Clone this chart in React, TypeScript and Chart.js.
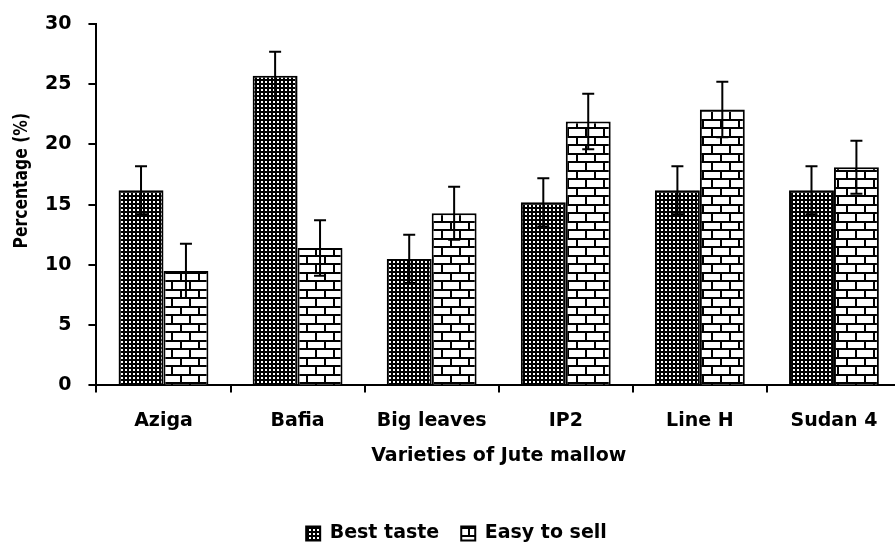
import React, { useEffect, useRef } from "react";
import { Chart, registerables } from "chart.js";

Chart.register(...registerables);

const categories = ["Aziga", "Bafia", "Big leaves", "IP2", "Line H", "Sudan 4"];
const bestTaste = [16.2, 25.7, 10.5, 15.2, 16.2, 16.2];
const easyToSell = [9.5, 11.4, 14.3, 21.9, 22.9, 18.1];
const bestTasteErr = [2.0, 2.0, 2.0, 2.0, 2.0, 2.0];
const easyToSellErr = [2.25, 2.3, 2.2, 2.3, 2.3, 2.2];
const seriesNames = ["Best taste", "Easy to sell"];
const yTitle = "Percentage (%)";
const xTitle = "Varieties of Jute mallow";

const FONT = "'DejaVu Sans', sans-serif";
const FSIZE = 19;

function makeDotPattern(): CanvasPattern | string {
  const c = document.createElement("canvas");
  c.width = 4;
  c.height = 4;
  const g = c.getContext("2d");
  if (!g) return "#000";
  g.fillStyle = "#000";
  g.fillRect(0, 0, 4, 4);
  g.fillStyle = "#fff";
  g.fillRect(1, 1, 2, 2);
  return g.createPattern(c, "repeat") || "#000";
}

function makeBrickPattern(): CanvasPattern | string {
  const w = 18;
  const h = 17;
  const c = document.createElement("canvas");
  c.width = w;
  c.height = h;
  const g = c.getContext("2d");
  if (!g) return "#fff";
  g.fillStyle = "#fff";
  g.fillRect(0, 0, w, h);
  g.fillStyle = "#000";
  g.fillRect(0, 0, w, 2);
  g.fillRect(0, 8, w, 2);
  g.fillRect(0, 0, 2, 8);
  g.fillRect(9, 8, 2, 9);
  return g.createPattern(c, "repeat") || "#fff";
}

const errorBarPlugin = {
  id: "errorBars",
  afterDatasetsDraw(chart: any) {
    const ctx = chart.ctx;
    const yScale = chart.scales.y;
    chart.data.datasets.forEach((ds: any, di: number) => {
      const meta = chart.getDatasetMeta(di);
      const errs: number[] = ds.errors || [];
      meta.data.forEach((bar: any, i: number) => {
        const v = ds.data[i];
        const e = errs[i];
        if (e == null) return;
        const top = yScale.getPixelForValue(v + e);
        const bot = yScale.getPixelForValue(v - e);
        ctx.save();
        ctx.strokeStyle = "#000";
        ctx.lineWidth = 2;
        ctx.beginPath();
        ctx.moveTo(bar.x, top);
        ctx.lineTo(bar.x, bot);
        ctx.moveTo(bar.x - 6, top);
        ctx.lineTo(bar.x + 6, top);
        ctx.moveTo(bar.x - 6, bot);
        ctx.lineTo(bar.x + 6, bot);
        ctx.stroke();
        ctx.restore();
      });
    });
  },
};

const yTitlePlugin = {
  id: "yTitle",
  afterDraw(chart: any) {
    const ctx = chart.ctx;
    const area = chart.chartArea;
    ctx.save();
    ctx.translate(22, (area.top + area.bottom) / 2 - 24);
    ctx.rotate(-Math.PI / 2);
    ctx.scale(0.82, 1);
    ctx.fillStyle = "#000";
    ctx.font = `bold ${FSIZE}px ${FONT}`;
    ctx.textAlign = "center";
    ctx.textBaseline = "middle";
    ctx.fillText(yTitle, 0, 0);
    ctx.restore();
  },
};

export default function App() {
  const ref = useRef<HTMLCanvasElement | null>(null);

  useEffect(() => {
    if (!ref.current) return;
    const font = { family: FONT, size: FSIZE, weight: "bold" };
    const chart = new Chart(ref.current, {
      type: "bar",
      data: {
        labels: categories,
        datasets: [
          {
            label: seriesNames[0],
            data: bestTaste,
            errors: bestTasteErr,
            backgroundColor: makeDotPattern(),
            borderColor: "#000",
            borderWidth: 2,
            categoryPercentage: 0.67,
            barPercentage: 1,
          } as any,
          {
            label: seriesNames[1],
            data: easyToSell,
            errors: easyToSellErr,
            backgroundColor: makeBrickPattern(),
            borderColor: "#000",
            borderWidth: 2,
            categoryPercentage: 0.67,
            barPercentage: 1,
          } as any,
        ],
      },
      options: {
        responsive: false,
        animation: false,
        devicePixelRatio: 1,
        layout: { padding: { left: 12, right: 9, top: 24, bottom: -8 } },
        plugins: {
          legend: {
            position: "bottom",
            labels: {
              color: "#000",
              font,
              boxWidth: 14,
              boxHeight: 14,
              padding: 22,
            },
          },
          tooltip: { enabled: false },
        },
        scales: {
          x: {
            grid: {
              display: true,
              drawOnChartArea: false,
              drawTicks: true,
              tickLength: 7,
              color: "#000",
              lineWidth: 2,
              offset: true,
            },
            border: { display: true, color: "#000", width: 2 },
            ticks: {
              color: "#000",
              font,
              padding: 17,
              maxRotation: 0,
            },
            title: {
              display: true,
              text: xTitle,
              color: "#000",
              font,
              padding: { top: -5, bottom: 35 },
            },
          },
          y: {
            min: 0,
            max: 30,
            afterFit(scale: any) {
              scale.width += 16;
              scale.paddingTop = 10;
            },
            grid: {
              display: true,
              drawOnChartArea: false,
              drawTicks: true,
              tickLength: 8,
              color: "#000",
              lineWidth: 2,
            },
            border: { display: true, color: "#000", width: 2 },
            ticks: {
              stepSize: 5,
              color: "#000",
              font,
              padding: 17,
            },
          },
        },
      },
      plugins: [errorBarPlugin, yTitlePlugin],
    } as any);
    return () => chart.destroy();
  }, []);

  return (
    <div
      style={{
        position: "fixed",
        left: 0,
        top: 0,
        width: 895,
        height: 545,
        overflow: "hidden",
        background: "#fff",
      }}
    >
      <canvas ref={ref} width={910} height={545} style={{ display: "block" }} />
    </div>
  );
}
